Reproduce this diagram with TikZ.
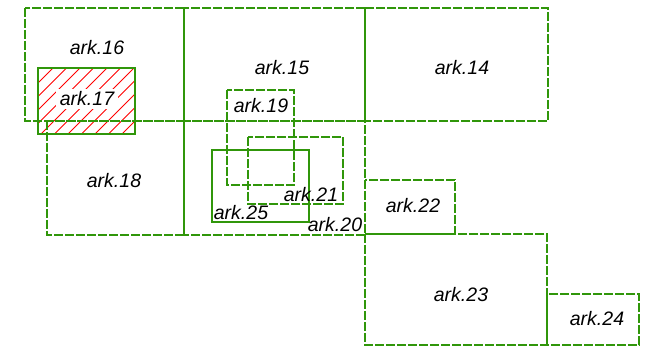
\documentclass[tikz,border=0pt]{standalone}
\usepackage{fontspec}
\setmainfont{Liberation Sans}
\usepackage{tikz}
\definecolor{arkgreen}{RGB}{48,150,10}
\tikzset{every node/.append style={font=\fontsize{19.5}{22}\selectfont\itshape}}
\tikzset{
  lot/.style={draw=arkgreen, line width=2.2pt},
  lotdash/.style={lot, dash pattern=on 9pt off 2pt},
}

\begin{document}
\begin{tikzpicture}[x=1pt, y=-1pt]
    \useasboundingbox (0,0) rectangle (670,355);
    % hatching of ark.17
    \begin{scope}
        \clip (38,68) rectangle (135,134);
        \foreach \a in {-40,-26.5,...,140}
            \draw[red, line width=0.8pt] (\a,134) -- ({\a+66},68);
    \end{scope}
    % top row
    \draw[lotdash] (25,8) rectangle (184,121);
    \draw[lotdash] (184,8) rectangle (365,121);
    \draw[lotdash] (365,8) rectangle (548,121);
    % middle row
    \draw[lotdash] (47,121) rectangle (184,235);
    \draw[lotdash] (184,121) rectangle (365,235);
    \draw[lotdash] (365,180) rectangle (455,234);
    % bottom row
    \draw[lotdash] (365,234) rectangle (547,345);
    \draw[lotdash] (547,294) rectangle (639,345);
    % inner lots
    \draw[lot] (38,68) rectangle (135,134);
    \draw[lotdash] (227,90) rectangle (294,185);
    \draw[lotdash] (248,137) rectangle (343,204);
    \draw[lot] (212,150) rectangle (309,222);
    % labels
    \node (l16) at (97,48) {ark.16};
    \node (l15) at (282,68) {ark.15};
    \node (l14) at (462,68) {ark.14};
    \node[fill=white, inner xsep=4pt, inner ysep=3pt] (l17) at (87,99) {ark.17};
    \node (l18) at (114,181) {ark.18};
    \node (l19) at (261,106) {ark.19};
    \node (l21) at (311,195) {ark.21};
    \node (l25) at (241,213) {ark.25};
    \node (l20) at (335,225) {ark.20};
    \node (l22) at (413,206) {ark.22};
    \node (l23) at (461,295) {ark.23};
    \node (l24) at (597,319) {ark.24};
\end{tikzpicture}
\end{document}
